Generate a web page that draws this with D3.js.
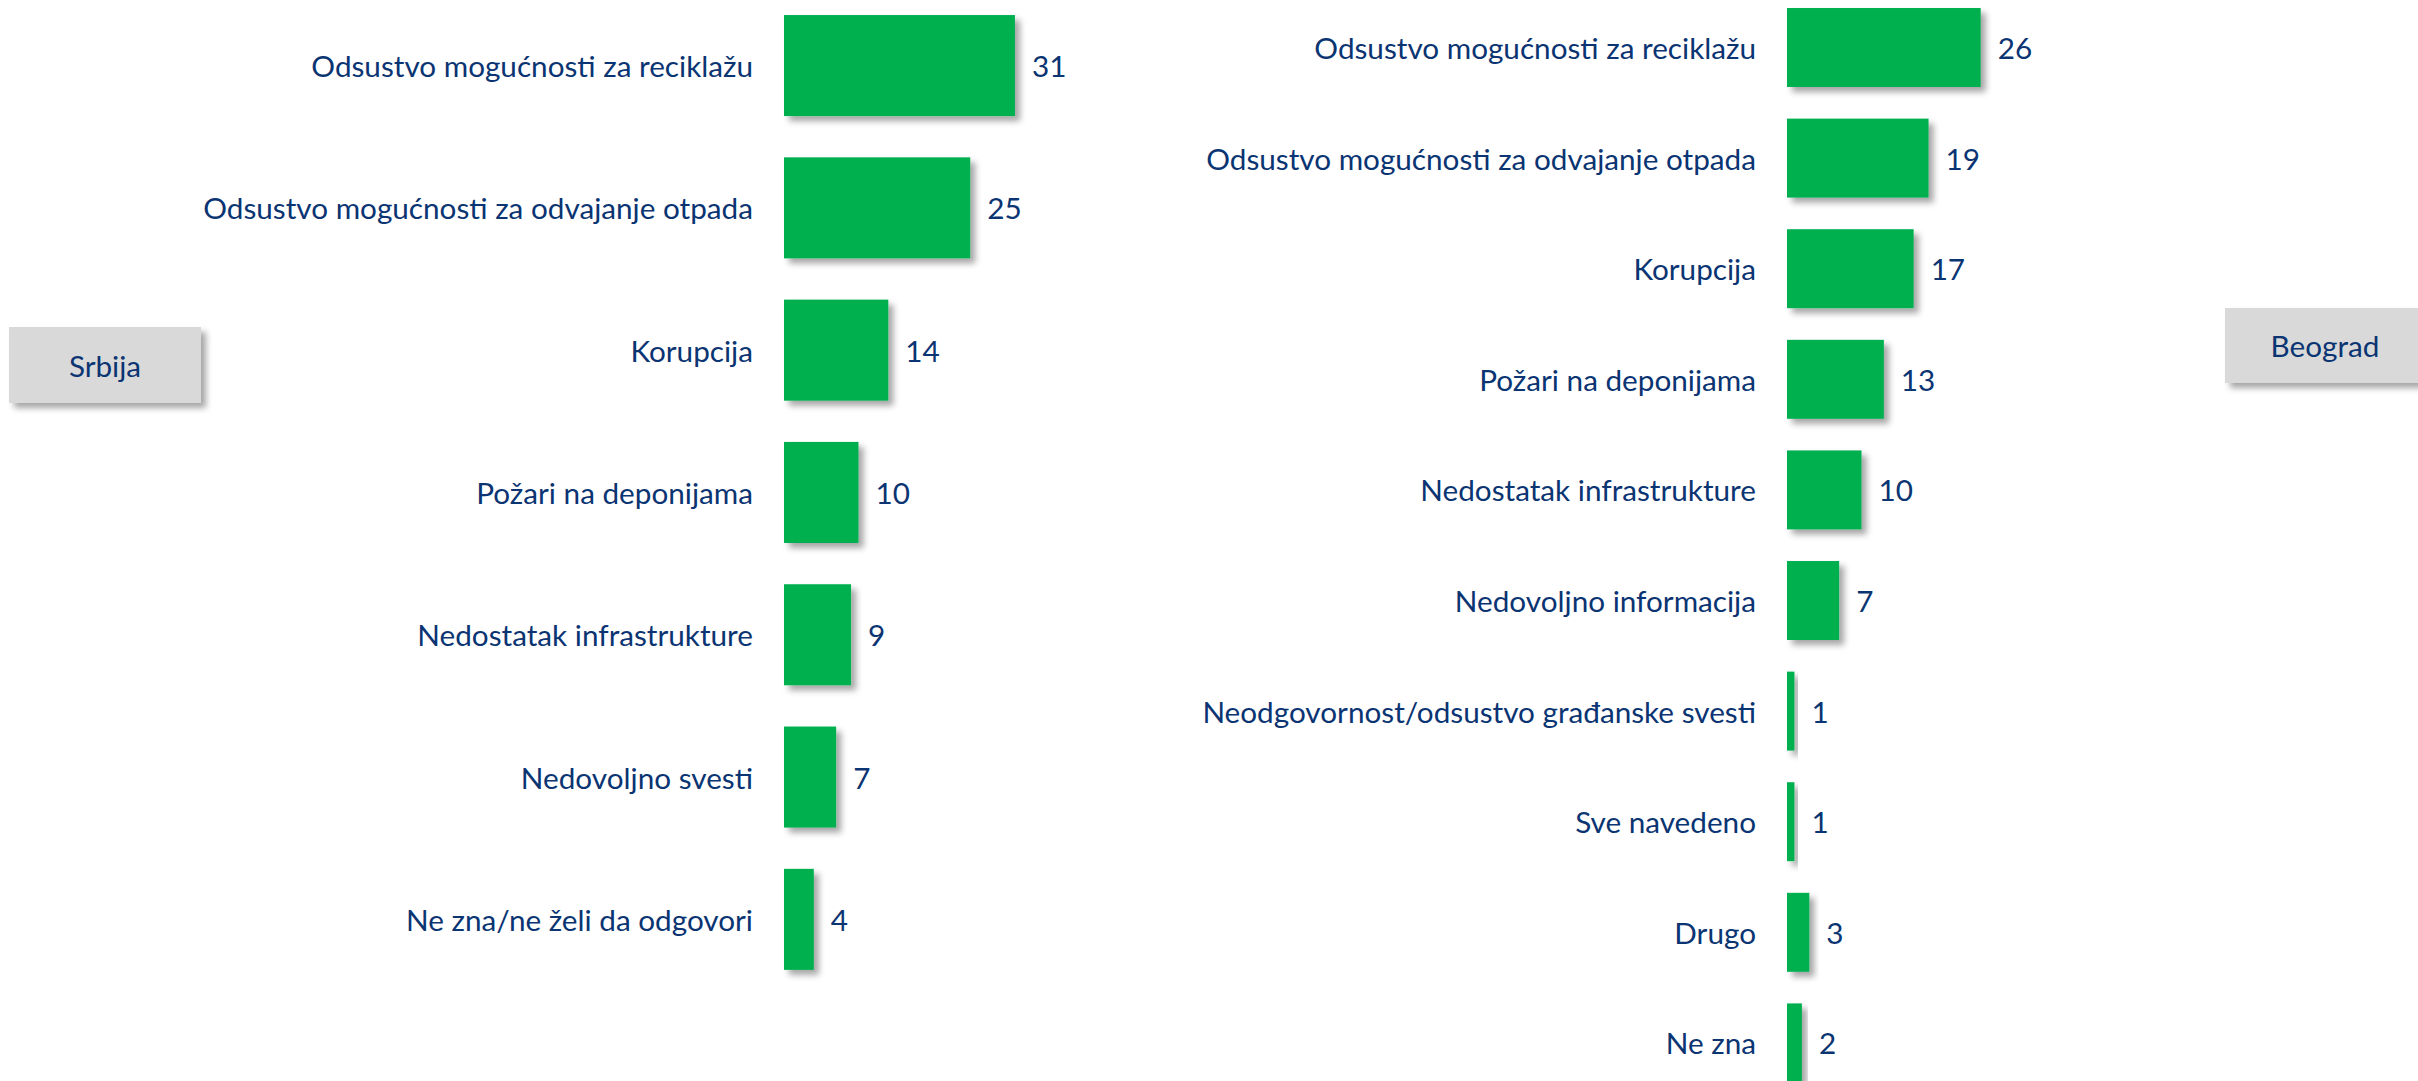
<!DOCTYPE html>
<html lang="sr">
<head>
<meta charset="UTF-8">
<title>chart</title>
<script src="https://d3js.org/d3.v7.min.js"></script>
<style>
  html, body { margin: 0; padding: 0; background: #fff; }
  text { font-family: Lato, "Open Sans", sans-serif; }
</style>
</head>
<body>
<svg width="2418" height="1081"></svg>
<script>
// Srbija
const srbijaCategories = ["Odsustvo mogućnosti za reciklažu", "Odsustvo mogućnosti za odvajanje otpada",
  "Korupcija", "Požari na deponijama", "Nedostatak infrastrukture", "Nedovoljno svesti",
  "Ne zna/ne želi da odgovori"];
const srbijaValues = [31, 25, 14, 10, 9, 7, 4];

// Beograd
const beogradCategories = ["Odsustvo mogućnosti za reciklažu", "Odsustvo mogućnosti za odvajanje otpada",
  "Korupcija", "Požari na deponijama", "Nedostatak infrastrukture", "Nedovoljno informacija",
  "Neodgovornost/odsustvo građanske svesti", "Sve navedeno", "Drugo", "Ne zna"];
const beogradValues = [26, 19, 17, 13, 10, 7, 1, 1, 3, 2];

const textColor = "#0a3472";
const green = "#00b050";
const fontSize = 29.7;
const pxPerUnit = 7.45;

const svg = d3.select("svg");

const defs = svg.append("defs");
defs.append("filter").attr("id", "shadow")
    .attr("x", "-20%").attr("y", "-20%").attr("width", "160%").attr("height", "160%")
  .append("feDropShadow")
    .attr("dx", 5).attr("dy", 5).attr("stdDeviation", 3)
    .attr("flood-color", "#000").attr("flood-opacity", 0.35);

function drawChart(cats, vals, x0, yRange, padInner) {
  const x = d3.scaleLinear()
      .domain([0, d3.max(vals)])
      .range([x0, x0 + d3.max(vals) * pxPerUnit]);
  const y = d3.scaleBand()
      .domain(cats)
      .range(yRange)
      .paddingInner(padInner)
      .paddingOuter(padInner / 2);

  const g = svg.append("g");
  const rows = cats.map((c, i) => ({ cat: c, val: vals[i] }));

  g.selectAll("rect")
    .data(rows)
    .enter()
    .append("rect")
      .attr("x", x(0))
      .attr("y", d => y(d.cat))
      .attr("width", d => x(d.val) - x(0))
      .attr("height", y.bandwidth())
      .attr("fill", green)
      .attr("filter", "url(#shadow)");

  g.selectAll("text.cat")
    .data(rows)
    .enter()
    .append("text")
      .attr("class", "cat")
      .attr("x", x(0) - 31)
      .attr("y", d => y(d.cat) + y.bandwidth() / 2)
      .attr("text-anchor", "end")
      .attr("dominant-baseline", "central")
      .attr("font-size", fontSize)
      .attr("fill", textColor)
      .text(d => d.cat);

  g.selectAll("text.val")
    .data(rows)
    .enter()
    .append("text")
      .attr("class", "val")
      .attr("x", d => x(d.val) + 17)
      .attr("y", d => y(d.cat) + y.bandwidth() / 2)
      .attr("dominant-baseline", "central")
      .attr("font-size", fontSize)
      .attr("fill", textColor)
      .text(d => d.val);
}

drawChart(srbijaCategories, srbijaValues, 784, [-5.6, 990.5], 0.29);
drawChart(beogradCategories, beogradValues, 1787, [-7.8, 1098.2], 0.286);

// label boxes
function labelBox(txt, bx, by, bw, bh) {
  svg.append("rect")
    .attr("x", bx).attr("y", by).attr("width", bw).attr("height", bh)
    .attr("fill", "#d9d9d9")
    .attr("filter", "url(#shadow)");
  svg.append("text")
    .attr("x", bx + bw / 2).attr("y", by + bh / 2)
    .attr("text-anchor", "middle")
    .attr("dominant-baseline", "central")
    .attr("font-size", fontSize)
    .attr("fill", textColor)
    .text(txt);
}
labelBox("Srbija", 9, 327, 192, 76);
labelBox("Beograd", 2225, 308, 200, 75);
</script>
</body>
</html>
